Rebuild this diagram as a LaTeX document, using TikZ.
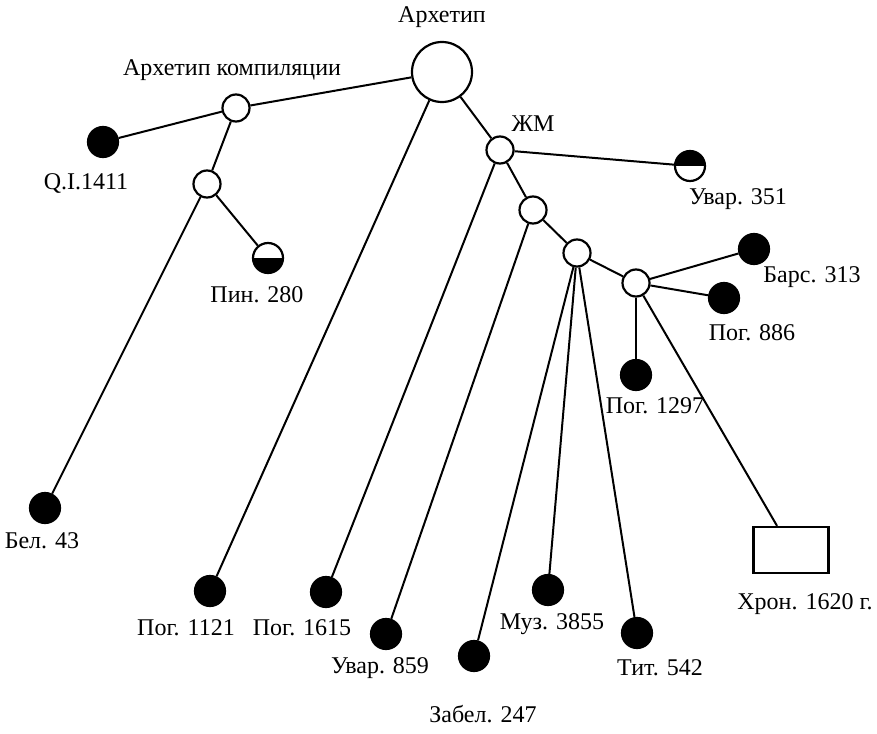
\documentclass[tikz,border=0pt]{standalone}
\usepackage{fontspec}
\setmainfont{Liberation Serif}
\tikzset{
  wit/.style={circle,draw,fill=black,line width=2.2pt,minimum size=30pt,inner sep=0pt},
  hyp/.style={circle,draw,fill=white,line width=2.2pt,minimum size=27pt,inner sep=0pt},
  halftop/.style={wit,fill=white,path picture={\fill[black] (path picture bounding box.north west) rectangle (path picture bounding box.east);}},
  halfbot/.style={wit,fill=white,path picture={\fill[black] (path picture bounding box.south west) rectangle (path picture bounding box.east);}},
  chron/.style={rectangle,draw,line width=2.2pt,minimum width=75pt,minimum height=46pt,inner sep=0pt},
  sig/.style={font=\fontsize{24}{28}\selectfont,inner sep=0pt},
  stem/.style={line width=2pt}
}
\begin{document}
\begin{tikzpicture}[x=1pt,y=-1pt]
\useasboundingbox (0,0) rectangle (877,733);

%hypothetical nodes%%%%%%%%%%%%%%%%%%%%%%%%%%%%%%%%%%%%%%%%%
\node[hyp,minimum size=60pt] (arch) at (442,72) {};
\node[hyp] (comp) at (236,108) {};
\node[hyp] (comp2) at (207,184) {};
\node[hyp] (zhm) at (500,150) {};
\node[hyp] (zhm2) at (533,210) {};
\node[hyp] (zhm3) at (577,253) {};
\node[hyp] (zhm4) at (636,283) {};

%manuscripts%%%%%%%%%%%%%%%%%%%%%%%%%%%%%%%%%%%%%%%%%%%%%%%%
\node[wit] (qi) at (103,142) {};
\node[halfbot] (pin) at (268,258) {};
\node[wit] (bel) at (45,508) {};
\node[halftop] (uv351) at (690,166) {};
\node[wit] (bars) at (754,249) {};
\node[wit] (pog886) at (724,298) {};
\node[wit] (pog1297) at (636,375) {};
\node[chron] (chron) at (791,550) {};
\node[wit] (pog1121) at (210,591) {};
\node[wit] (pog1615) at (326,592) {};
\node[wit] (uv859) at (386,634) {};
\node[wit] (zab) at (474,656) {};
\node[wit] (muz) at (548,590) {};
\node[wit] (tit) at (637,633) {};

%edges%%%%%%%%%%%%%%%%%%%%%%%%%%%%%%%%%%%%%%%%%%%%%%%%%%%%%%
\draw[stem] (arch) -- (comp);
\draw[stem] (comp) -- (qi);
\draw[stem] (comp) -- (comp2);
\draw[stem] (comp2) -- (pin);
\draw[stem] (comp2) -- (bel);
\draw[stem] (arch) -- (pog1121);
\draw[stem] (arch) -- (zhm);
\draw[stem] (zhm) -- (uv351);
\draw[stem] (zhm) -- (pog1615);
\draw[stem] (zhm) -- (zhm2);
\draw[stem] (zhm2) -- (uv859);
\draw[stem] (zhm2) -- (zhm3);
\draw[stem] (zhm3) -- (zab);
\draw[stem] (zhm3) -- (muz);
\draw[stem] (zhm3) -- (tit);
\draw[stem] (zhm3) -- (zhm4);
\draw[stem] (zhm4) -- (bars);
\draw[stem] (zhm4) -- (pog886);
\draw[stem] (zhm4) -- (pog1297);
\draw[stem] (zhm4) -- (chron);

%labels%%%%%%%%%%%%%%%%%%%%%%%%%%%%%%%%%%%%%%%%%%%%%%%%%%%%%
\node[sig] (l-arch) at (442,17) {Архетип};
\node[sig] (l-comp) at (232,70) {Архетип компиляции};
\node[sig] (l-qi) at (86,183) {Q.I.1411};
\node[sig] (l-pin) at (257,295) {Пин. 280};
\node[sig] (l-bel) at (42,541) {Бел. 43};
\node[sig] (l-zhm) at (533,124) {ЖМ};
\node[sig] (l-uv351) at (738,199) {Увар. 351};
\node[sig] (l-bars) at (812,277) {Барс. 313};
\node[sig] (l-pog886) at (752,333) {Пог. 886};
\node[sig] (l-pog1297) at (655,406) {Пог. 1297};
\node[sig] (l-chron) at (805,604) {Хрон. 1620 г.};
\node[sig] (l-pog1121) at (186,628) {Пог. 1121};
\node[sig] (l-pog1615) at (302,628) {Пог. 1615};
\node[sig] (l-uv859) at (380,668) {Увар. 859};
\node[sig] (l-zab) at (483,714) {Забел. 247};
\node[sig] (l-muz) at (552,624) {Муз. 3855};
\node[sig] (l-tit) at (660,668) {Тит. 542};

\end{tikzpicture}
\end{document}
